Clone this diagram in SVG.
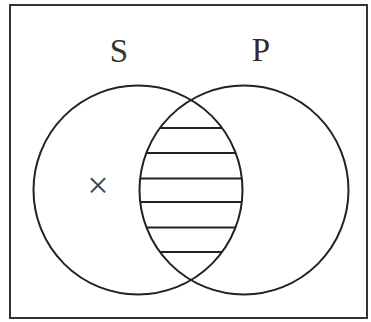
<svg xmlns="http://www.w3.org/2000/svg" width="371" height="322" viewBox="0 0 371 322">
<defs>
<style>
.ln{fill:none;stroke:#222;stroke-width:2}
.hatch{stroke:#222;stroke-width:2}
.lbl{font-family:"Liberation Serif","Times New Roman",serif;font-size:33px;fill:#333;text-anchor:middle}
</style>
<clipPath id="lens">
<circle cx="138" cy="190" r="104.5"/>
</clipPath>
<clipPath id="lens2">
<circle cx="244" cy="190" r="104.5"/>
</clipPath>
</defs>
<rect id="frame" x="10" y="5" width="357" height="313" fill="#fff" stroke="#333" stroke-width="2"/>
<g id="hatching" clip-path="url(#lens)">
<g clip-path="url(#lens2)">
<line class="hatch" x1="100" y1="128" x2="280" y2="128"/>
<line class="hatch" x1="100" y1="153" x2="280" y2="153"/>
<line class="hatch" x1="100" y1="178.5" x2="280" y2="178.5"/>
<line class="hatch" x1="100" y1="202" x2="280" y2="202"/>
<line class="hatch" x1="100" y1="227.5" x2="280" y2="227.5"/>
<line class="hatch" x1="100" y1="252" x2="280" y2="252"/>
</g>
</g>
<g id="S">
<circle class="ln" cx="138" cy="190" r="104.5"/>
<text class="lbl" x="119" y="62">S</text>
</g>
<g id="P">
<circle class="ln" cx="244" cy="190" r="104.5"/>
<text class="lbl" x="261" y="61" style="fill:#3a2626">P</text>
</g>
<g id="mark">
<text x="98" y="197.5" style="font-family:'Liberation Serif','Times New Roman',serif;font-size:38px;fill:#444;text-anchor:middle">×</text>
</g>
</svg>
